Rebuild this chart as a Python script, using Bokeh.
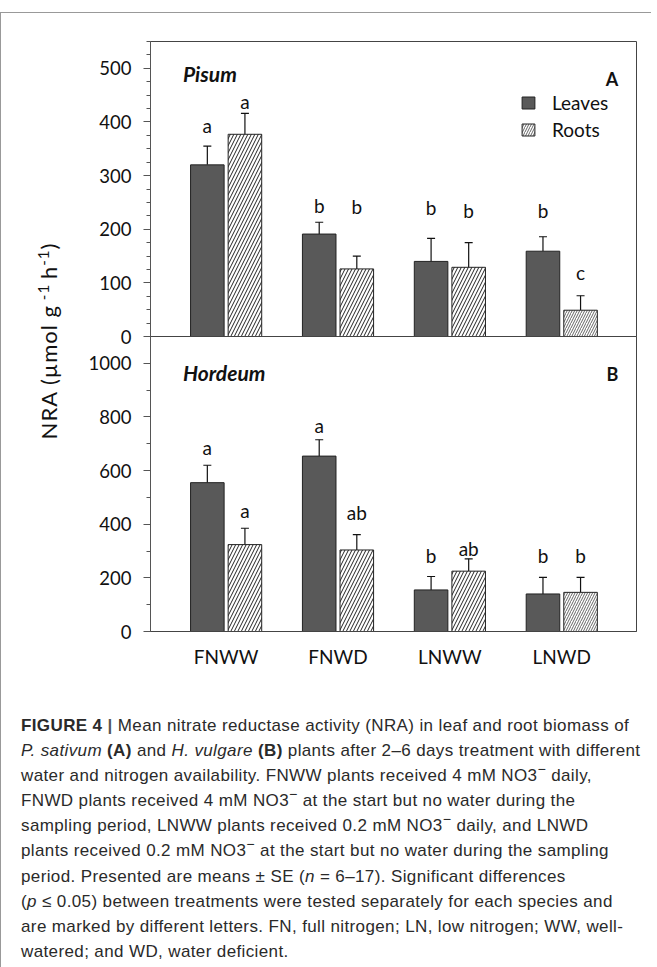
import numpy as np
from bokeh.plotting import figure
from bokeh.models import (ColumnDataSource, Range1d, FixedTicker, Whisker, TeeHead,
                          Legend, LegendItem, Label, Div)
from bokeh.layouts import column, row
from bokeh.transform import dodge
from bokeh.core.properties import value
from bokeh.embed import file_html
from bokeh.resources import INLINE

# ---------------- data ----------------
treatments = ["FNWW", "FNWD", "LNWW", "LNWD"]

pisum_leaves = [320, 191, 140, 159]
pisum_leaves_se = [35, 22, 43, 27]
pisum_roots = [377, 126, 129, 49]
pisum_roots_se = [39, 24, 46, 27]
pisum_leaves_letters = ["a", "b", "b", "b"]
pisum_roots_letters = ["a", "b", "b", "c"]

hordeum_leaves = [555, 654, 155, 140]
hordeum_leaves_se = [65, 61, 50, 62]
hordeum_roots = [324, 304, 225, 146]
hordeum_roots_se = [61, 57, 46, 56]
hordeum_leaves_letters = ["a", "a", "b", "b"]
hordeum_roots_letters = ["a", "ab", "ab", "b"]

pisum_ticks = [0, 100, 200, 300, 400, 500]
hordeum_ticks = [0, 200, 400, 600, 800, 1000]

# ---------------- layout / style ----------------
# letter annotation heights (placed by hand in the original figure)
pisum_leaves_letter_y = [394, 245, 241, 234]
pisum_roots_letter_y = [438, 242, 234, 119]
hordeum_leaves_letter_y = [687, 770, 283, 283]
hordeum_roots_letter_y = [452, 445, 308, 283]
roots_hatch_scale = [7, 7, 7, 5]
roots_hatch_color = ["#222222", "#222222", "#222222", "#666666"]

FONT = "Lato"
LEAF_COLOR = "#595959"
EDGE = "#222222"
AXIS_COLOR = "#555555"
OFF = 0.168
BW = 0.3
FRAME_W, FRAME_H = 486, 295
X_RANGE = Range1d(0.324, 4.668)
OVERLAP = 10


def make_source(leaves, leaves_se, roots, roots_se, ll, rl, lly, rly):
    return ColumnDataSource(dict(
        x=list(range(1, len(treatments) + 1)),
        treatment=treatments,
        leaves=leaves, leaves_hi=[v + e for v, e in zip(leaves, leaves_se)],
        roots=roots, roots_hi=[v + e for v, e in zip(roots, roots_se)],
        ll=ll, rl=rl, lly=lly, rly=rly,
        hs=roots_hatch_scale, hc=roots_hatch_color,
    ))


def panel(src, ymax, ticks, minor, title, letter, title_y, letter_y, top_border, bottom_border, show_x):
    p = figure(frame_width=FRAME_W, frame_height=FRAME_H, x_range=X_RANGE,
               y_range=Range1d(0, ymax), toolbar_location=None, output_backend="svg",
               min_border_left=79, min_border_right=10, min_border_top=top_border,
               min_border_bottom=bottom_border,
               x_axis_location="below" if show_x else None)
    p.grid.visible = False
    p.outline_line_color = "#444444"
    p.outline_line_width = 1

    lv = p.vbar(x=dodge("x", -OFF, range=p.x_range), top="leaves", bottom=0, width=BW, source=src,
                fill_color=LEAF_COLOR, line_color=EDGE, line_width=1)
    rt = p.vbar(x=dodge("x", OFF, range=p.x_range), top="roots", bottom=0, width=BW, source=src,
                fill_color="white", line_color=EDGE, line_width=1,
                hatch_pattern="/", hatch_scale="hs", hatch_color="hc", hatch_weight=1)

    for off, lo, hi in [(-OFF, "leaves", "leaves_hi"), (OFF, "roots", "roots_hi")]:
        w = Whisker(base=dodge("x", off, range=p.x_range), lower=lo, upper=hi, source=src,
                    lower_head=None, upper_head=TeeHead(size=8, line_color="#111111", line_width=1.2),
                    line_color="#111111", line_width=1.2)
        p.add_layout(w)

    p.text(x=dodge("x", -OFF, range=p.x_range), y="lly", text="ll", source=src,
           text_font=value(FONT), text_font_size="19px", text_align="center",
           text_baseline="alphabetic", text_color="#111111")
    p.text(x=dodge("x", OFF, range=p.x_range), y="rly", text="rl", source=src,
           text_font=value(FONT), text_font_size="19px", text_align="center",
           text_baseline="alphabetic", text_color="#111111")

    p.add_layout(Label(x=0.614, y=title_y, text=title, text_font=FONT, text_font_size="21px",
                       text_font_style="bold italic", text_color="#111111",
                       text_baseline="alphabetic"))
    p.add_layout(Label(x=4.505, y=letter_y, text=letter, text_font=FONT, text_font_size="18px",
                       text_font_style="bold", text_color="#111111", text_align="right",
                       text_baseline="alphabetic"))

    ax = p.yaxis[0]
    ax.ticker = FixedTicker(ticks=ticks, minor_ticks=minor)
    ax.major_tick_out = 7
    ax.major_tick_in = 0
    ax.minor_tick_out = 4
    ax.minor_tick_in = 0
    ax.axis_line_color = AXIS_COLOR
    ax.major_tick_line_color = AXIS_COLOR
    ax.minor_tick_line_color = AXIS_COLOR
    ax.major_label_text_font = FONT
    ax.major_label_text_font_size = "18.5px"
    ax.major_label_text_color = "#111111"
    ax.major_label_standoff = 12

    if show_x:
        xa = p.xaxis[0]
        xa.ticker = FixedTicker(ticks=list(range(1, len(treatments) + 1)))
        xa.major_label_overrides = {i + 1: t for i, t in enumerate(treatments)}
        xa.major_tick_out = 0
        xa.major_tick_in = 0
        xa.minor_tick_line_color = None
        xa.axis_line_color = "#444444"
        xa.major_label_text_font = FONT
        xa.major_label_text_font_size = "19px"
        xa.major_label_text_color = "#111111"
        xa.major_label_standoff = 13
    return p, lv, rt


src_a = make_source(pisum_leaves, pisum_leaves_se, pisum_roots, pisum_roots_se,
                    pisum_leaves_letters, pisum_roots_letters,
                    pisum_leaves_letter_y, pisum_roots_letter_y)
src_b = make_source(hordeum_leaves, hordeum_leaves_se, hordeum_roots, hordeum_roots_se,
                    hordeum_leaves_letters, hordeum_roots_letters,
                    hordeum_leaves_letter_y, hordeum_roots_letter_y)

pa, lv_a, rt_a = panel(src_a, 550, pisum_ticks, list(range(0, 551, 25)), "Pisum", "A",
                       491, 481, 28, OVERLAP, False)
pb, lv_b, rt_b = panel(src_b, 1100, hordeum_ticks, list(range(0, 1101, 100)), "Hordeum", "B",
                       965, 960, 0, 50, True)
# panel B sits over the bottom strip of panel A's canvas (so A's "0" label is not cut)
pb.background_fill_alpha = 0
pb.border_fill_alpha = 0
pb.margin = (-OVERLAP, 0, 0, 0)

legend = Legend(items=[LegendItem(label="Leaves", renderers=[lv_a]),
                       LegendItem(label="Roots", renderers=[rt_a], index=3)],
                location=(370, 195), glyph_width=16, glyph_height=15, label_standoff=16,
                label_text_font=FONT, label_text_font_size="19px", label_text_color="#111111",
                spacing=4, padding=0, margin=0, border_line_alpha=0, background_fill_alpha=0)
pa.add_layout(legend, "center")

# y-axis title spanning both panels
H_TOTAL = 28 + FRAME_H + FRAME_H + 50
ylab = Div(
    text=('<div style="width:60px;height:%dpx;display:flex;align-items:center;'
          'justify-content:center;box-sizing:border-box;padding-left:26px;padding-bottom:22px;">'
          '<div style="transform:rotate(-90deg);white-space:nowrap;font-family:Lato;'
          'font-size:22px;letter-spacing:1px;color:#111;line-height:1;">'
          'NRA (µmol g<sup style="font-size:15px;line-height:0;"> -1 </sup>h'
          '<sup style="font-size:15px;line-height:0;">-1</sup>)</div></div>') % H_TOTAL,
    width=60, height=H_TOTAL)

caption_html = (
    '<div style="margin-left:15px;padding-top:17px;font-family:\'Liberation Sans\';font-size:17px;'
    'letter-spacing:0.38px;line-height:25.1px;color:#2a2a2a;white-space:nowrap;">'
    '<b>FIGURE 4</b> <b style="color:#555">|</b> Mean nitrate reductase activity (NRA) in leaf and root biomass of<br>'
    '<i>P. sativum</i> <b>(A)</b> and <i>H. vulgare</i> <b>(B)</b> plants after 2–6 days treatment with different<br>'
    'water and nitrogen availability. FNWW plants received 4 mM NO3<sup style="line-height:0">−</sup> daily,<br>'
    'FNWD plants received 4 mM NO3<sup style="line-height:0">−</sup> at the start but no water during the<br>'
    'sampling period, LNWW plants received 0.2 mM NO3<sup style="line-height:0">−</sup> daily, and LNWD<br>'
    'plants received 0.2 mM NO3<sup style="line-height:0">−</sup> at the start but no water during the sampling<br>'
    'period. Presented are means ± SE (<i>n</i> = 6–17). Significant differences<br>'
    '(<i>p</i> ≤ 0.05) between treatments were tested separately for each species and<br>'
    'are marked by different letters. FN, full nitrogen; LN, low nitrogen; WW, well-<br>'
    'watered; and WD, water deficient.</div>'
)
caption = Div(text=caption_html, width=640, height=278, styles={"overflow": "hidden"})

layout = column(row(ylab, column(pa, pb, spacing=0), spacing=0), caption, spacing=0,
                styles={"position": "relative", "top": "12px", "border-top": "1px solid #999",
                        "border-left": "1px solid #999"})

open("out.html", "w").write(file_html(layout, INLINE))
